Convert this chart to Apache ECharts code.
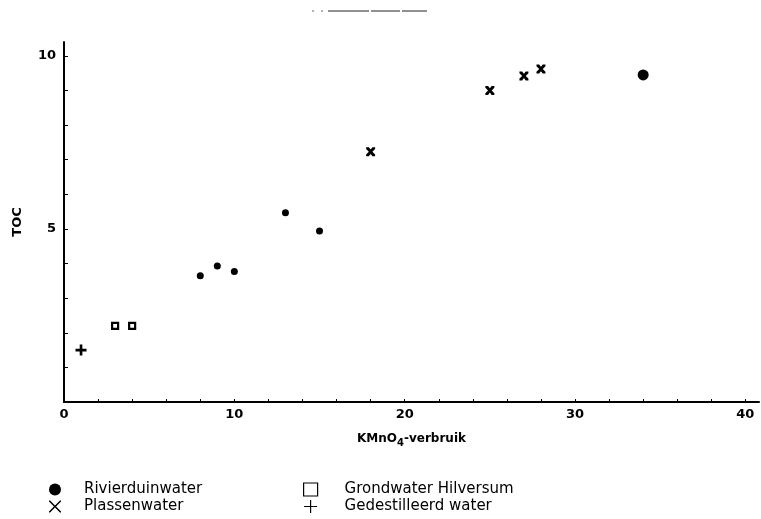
<!DOCTYPE html>
<html>
<head>
<meta charset="utf-8">
<script src="https://cdn.jsdelivr.net/npm/echarts@6/dist/echarts.min.js"></script>
<style>
  html, body { margin: 0; padding: 0; background: #fff; }
  #chart { width: 761px; height: 519px; }
</style>
</head>
<body>
<div id="chart"></div>
<script>
// KMnO4-verbruik (x) tegen TOC (y)
const rivierduinwater = [[34, 9.45]]
const puntjes = [[8, 3.65], [9, 3.93], [10, 3.77], [13, 5.47], [15, 4.94]]
const plassenwater = [[18, 7.23], [25, 9.0], [27, 9.42], [28, 9.62]]
const grondwater = [[3, 2.2], [4, 2.2]]
const gedestilleerd = [[1, 1.5]]

const xTicks = [0, 2, 4, 6, 8, 10, 12, 14, 16, 18, 20, 22, 24, 26, 28, 30, 32, 34, 36, 38, 40]
const xLabels = [0, 10, 20, 30, 40]
const yTicks = [1, 2, 3, 4, 5, 6, 7, 8, 9, 10]
const yLabels = [5, 10]

const kruisVet = 'path://M0,0 L3,0 L5,2.6 L7,0 L10,0 L10,2 L7,5 L10,8 L10,10 L7,10 L5,7.4 L3,10 L0,10 L0,8 L3,5 L0,2 Z'
const plusVet = 'path://M3.8,0 L6.2,0 L6.2,3.8 L10,3.8 L10,6.2 L6.2,6.2 L6.2,10 L3.8,10 L3.8,6.2 L0,6.2 L0,3.8 L3.8,3.8 Z'
const kruisDun = 'path://M0,0 L0.9,0 L5,4.1 L9.1,0 L10,0 L10,0.9 L5.9,5 L10,9.1 L10,10 L9.1,10 L5,5.9 L0.9,10 L0,10 L0,9.1 L4.1,5 L0,0.9 Z'
const plusDun = 'path://M4.55,0 L5.45,0 L5.45,4.55 L10,4.55 L10,5.45 L5.45,5.45 L5.45,10 L4.55,10 L4.55,5.45 L0,5.45 L0,4.55 L4.55,4.55 Z'

const axisFont = { fontFamily: 'DejaVu Sans', fontWeight: 'bold', fontSize: 13, color: '#000' }
const legendFont = { fontFamily: 'DejaVu Sans', fontSize: 15, color: '#000', lineHeight: 17 }

var myChart = echarts.init(document.getElementById('chart'))
var option = {
  backgroundColor: '#fff',
  animation: false,
  grid: { left: 64, right: 2, top: 42, bottom: 117 },
  xAxis: {
    type: 'value',
    min: 0,
    max: 40.8,
    name: 'KMnO{sub|4}-verbruik',
    nameLocation: 'middle',
    nameGap: 28,
    nameTextStyle: {
      fontFamily: 'DejaVu Sans', fontWeight: 'bold', fontSize: 12, color: '#000',
      rich: { sub: { fontFamily: 'DejaVu Sans', fontWeight: 'bold', fontSize: 10, color: '#000', padding: [8, 0, 0, 0] } }
    },
    splitLine: { show: false },
    axisLine: { lineStyle: { color: '#000', width: 2 } },
    axisTick: { inside: true, length: 3, customValues: xTicks, lineStyle: { color: '#000', width: 1 } },
    axisLabel: Object.assign({ customValues: xLabels, margin: 6 }, axisFont)
  },
  yAxis: {
    type: 'value',
    min: 0,
    max: 10.4,
    name: 'TOC',
    nameLocation: 'middle',
    nameRotate: 90,
    nameGap: 40,
    nameTextStyle: axisFont,
    splitLine: { show: false },
    axisLine: { lineStyle: { color: '#000', width: 2 } },
    axisTick: { inside: true, length: 4, customValues: yTicks, lineStyle: { color: '#000', width: 1 } },
    axisLabel: Object.assign({ customValues: yLabels, margin: 8 }, axisFont)
  },
  legend: [{
    orient: 'vertical',
    left: 49,
    top: 481,
    padding: 0,
    itemWidth: 12,
    itemHeight: 12,
    itemGap: 0,
    textStyle: Object.assign({ padding: [0, 0, 0, 18] }, legendFont),
    data: [
      { name: 'Rivierduinwater', icon: 'circle' },
      { name: 'Plassenwater', icon: kruisDun }
    ]
  }, {
    orient: 'vertical',
    left: 303,
    top: 481,
    padding: 0,
    itemWidth: 14,
    itemHeight: 13,
    itemGap: 0,
    textStyle: Object.assign({ padding: [0, 0, 0, 22] }, legendFont),
    data: [
      { name: 'Grondwater Hilversum', icon: 'rect', itemStyle: { borderWidth: 1.2 } },
      { name: 'Gedestilleerd water', icon: plusDun }
    ]
  }],
  graphic: [
    { type: 'line', shape: { x1: 312, y1: 11, x2: 314, y2: 11 }, style: { stroke: '#666', lineWidth: 1 } },
    { type: 'line', shape: { x1: 321, y1: 11, x2: 323, y2: 11 }, style: { stroke: '#666', lineWidth: 1 } },
    { type: 'line', shape: { x1: 328, y1: 11, x2: 369, y2: 11 }, style: { stroke: '#222', lineWidth: 1 } },
    { type: 'line', shape: { x1: 371, y1: 11, x2: 400, y2: 11 }, style: { stroke: '#222', lineWidth: 1 } },
    { type: 'line', shape: { x1: 402, y1: 11, x2: 427, y2: 11 }, style: { stroke: '#222', lineWidth: 1 } }
  ],
  series: [
    {
      name: 'Rivierduinwater',
      type: 'scatter',
      data: rivierduinwater,
      symbol: 'circle',
      symbolSize: 11,
      itemStyle: { color: '#000', opacity: 1 }
    },
    {
      name: 'Rivierduinwater (klein)',
      type: 'scatter',
      data: puntjes,
      symbol: 'circle',
      symbolSize: 7,
      itemStyle: { color: '#000', opacity: 1 }
    },
    {
      name: 'Plassenwater',
      type: 'scatter',
      data: plassenwater,
      symbol: kruisVet,
      symbolSize: 9,
      itemStyle: { color: '#000', opacity: 1 }
    },
    {
      name: 'Grondwater Hilversum',
      type: 'scatter',
      data: grondwater,
      symbol: 'rect',
      symbolSize: 6,
      itemStyle: { color: '#fff', borderColor: '#000', borderWidth: 2.2, opacity: 1 }
    },
    {
      name: 'Gedestilleerd water',
      type: 'scatter',
      data: gedestilleerd,
      symbol: plusVet,
      symbolSize: 11,
      itemStyle: { color: '#000', opacity: 1 }
    }
  ]
}
option && myChart.setOption(option)
</script>
</body>
</html>
